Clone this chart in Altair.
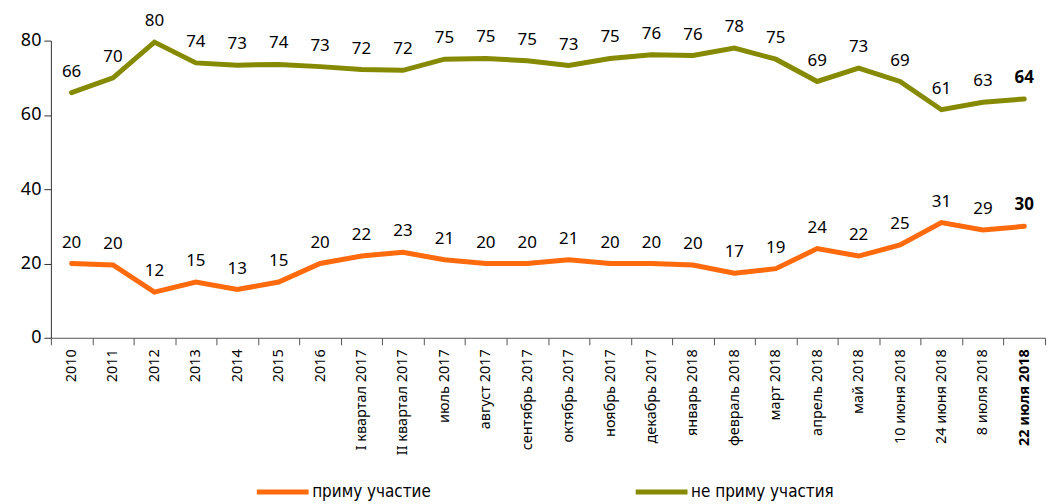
import altair as alt
import pandas as pd

categories = ["2010", "2011", "2012", "2013", "2014", "2015", "2016",
              "I квартал 2017", "II квартал 2017", "июль 2017", "август 2017",
              "сентябрь 2017", "октябрь 2017", "ноябрь 2017", "декабрь 2017",
              "январь 2018", "февраль 2018", "март 2018", "апрель 2018",
              "май 2018", "10 июня 2018", "24 июня 2018", "8 июля 2018",
              "22 июля 2018"]
participate = [20, 19.6, 12.3, 15, 13, 15, 20, 22, 23, 21, 20, 20, 21, 20, 20, 19.6,
               17.4, 18.6, 24, 22, 25, 31, 29, 30]
not_participate = [66, 70, 79.6, 74, 73.4, 73.6, 73, 72.2, 72, 75, 75.2, 74.6, 73.3,
                   75.2, 76.2, 76, 78, 75, 69, 72.6, 69, 61.4, 63.4, 64.3]
series_names = ["приму участие", "не приму участия"]
colors = ["#FF6A0D", "#858A00"]

rows = []
for i, c in enumerate(categories):
    rows.append({"cat": c, "series": series_names[0], "value": participate[i], "last": i == len(categories) - 1})
    rows.append({"cat": c, "series": series_names[1], "value": not_participate[i], "last": i == len(categories) - 1})
df = pd.DataFrame(rows)

last_cat = categories[-1]

x_enc = alt.X("cat:N", sort=categories, bandPosition=0.5,
              scale=alt.Scale(type="band", paddingInner=0, paddingOuter=0),
              axis=alt.Axis(title=None, labelAngle=-90, labelFontSize=14.5,
                            labelFont="Noto Sans", labelColor="#000",
                            labelPadding=4,
                            labelFontWeight=alt.ExprRef(expr=f"datum.value == '{last_cat}' ? 'bold' : 'normal'"),
                            tickBand="extent", tickSize=7, tickColor="#555",
                            domainColor="#555", labelLimit=300))
y_enc = alt.Y("value:Q", scale=alt.Scale(domain=[0, 80], nice=False),
              axis=alt.Axis(title=None, values=[0, 20, 40, 60, 80], grid=False,
                            labelFontSize=18, labelFont="Noto Sans", labelColor="#000",
                            tickSize=7, tickColor="#333", domainColor="#333",
                            labelPadding=3))
color_enc = alt.Color("series:N", sort=series_names,
                      scale=alt.Scale(domain=series_names, range=colors),
                      legend=alt.Legend(title=None, orient="none", direction="horizontal",
                                        legendX=204, legendY=424,
                                        symbolType="stroke", symbolSize=2700,
                                        symbolStrokeWidth=5, labelFontSize=17,
                                        labelFont="DejaVu Sans Condensed",
                                        labelColor="#000", labelOffset=1,
                                        columnPadding=194, padding=0))

base = alt.Chart(df)
lines = base.mark_line(strokeWidth=5, strokeCap="round").encode(
    x=x_enc, y=y_enc, color=color_enc, detail="series:N")

labels = base.mark_text(dy=-21, fontSize=17, font="Noto Sans", color="#000",
                        baseline="middle").encode(
    x=alt.X("cat:N", sort=categories, bandPosition=0.5),
    y="value:Q",
    text=alt.Text("value:Q", format=".0f")
).transform_filter("!datum.last")

labels_last = base.mark_text(dy=-21, fontSize=17, font="Noto Sans", color="#000",
                             fontWeight="bold", baseline="middle").encode(
    x=alt.X("cat:N", sort=categories, bandPosition=0.5),
    y="value:Q",
    text=alt.Text("value:Q", format=".0f")
).transform_filter("datum.last")

chart = alt.layer(lines, labels, labels_last).properties(
    width=997, height=298,
    padding={"left": 12, "top": 3, "right": 5, "bottom": 5},
    background="white"
).configure_view(stroke=None)

chart.save("out.html", embed_options={"renderer": "svg", "actions": False})
